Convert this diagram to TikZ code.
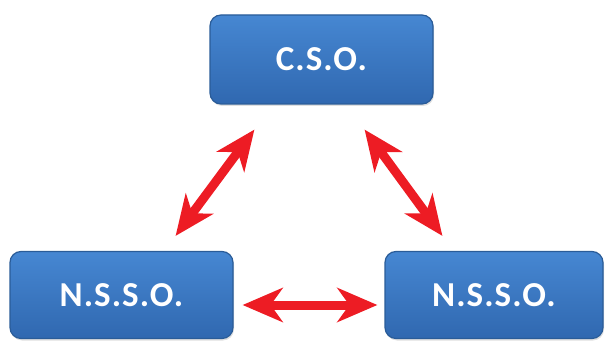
\documentclass[tikz,border=0pt]{standalone}
\usepackage{fontspec}
\setmainfont{Carlito}[LetterSpace=3]
\usepackage{tikz}
\usetikzlibrary{arrows.meta,shadows}

\definecolor{boxtop}{HTML}{4687D2}
\definecolor{boxmid}{HTML}{3A78C4}
\definecolor{boxbot}{HTML}{3068B0}
\definecolor{boxline}{HTML}{2A5C98}
\definecolor{arrred}{HTML}{ED1C24}

\begin{document}
\begin{tikzpicture}
  [
  x=1pt,y=1pt,
  bluebox/.style={rectangle,rounded corners=11pt,draw=boxline,line width=1.2pt,
    top color=boxtop,middle color=boxmid,bottom color=boxbot,text=white,
    font=\bfseries\fontsize{35}{40}\selectfont,
    minimum width=223pt,minimum height=87pt,
    drop shadow={opacity=0.25,shadow xshift=1pt,shadow yshift=-2pt}},
  link/.style={arrred,line width=9pt,
    {Stealth[length=40pt,width=34pt,inset=12pt]}-{Stealth[length=40pt,width=34pt,inset=12pt]}}
  ]
  \useasboundingbox (0,0) rectangle (607,340);

  \node (cso)   [bluebox] at (321.5,280.5) [minimum height=89pt] {C.S.O.};
  \node (lnsso) [bluebox] at (121.5,45) {N.S.S.O.};
  \node (rnsso) [bluebox] at (494,45) [minimum width=218pt] {N.S.S.O.};

  \draw [link] ([xshift=45pt,yshift=-25pt]cso.south west)
    -- ([xshift=-58pt,yshift=15pt]lnsso.north east);
  \draw [link] ([xshift=-69pt,yshift=-25pt]cso.south east)
    -- ([xshift=58pt,yshift=15pt]rnsso.north west);
  \draw [link] ([xshift=9pt,yshift=-10pt]lnsso.east)
    -- ([xshift=-7pt,yshift=-10pt]rnsso.west);
\end{tikzpicture}
\end{document}
